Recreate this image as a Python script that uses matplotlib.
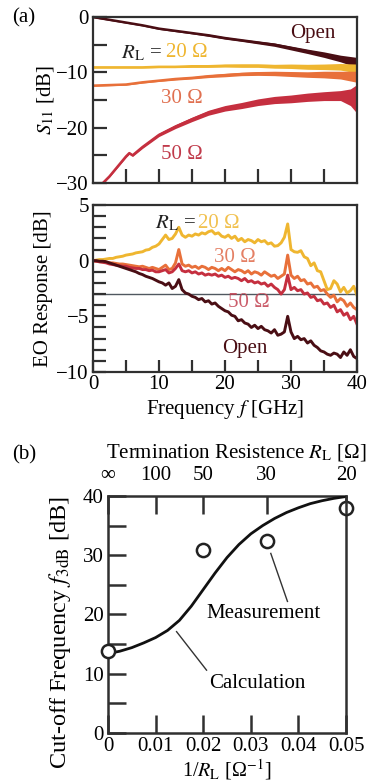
import numpy as np
import matplotlib
matplotlib.use("Agg")
import matplotlib.pyplot as plt

plt.rcParams['font.family'] = ['Liberation Serif', 'DejaVu Serif']
plt.rcParams['mathtext.fontset'] = 'stix'

# ---------------- data ----------------
# (a) top: S11 [dB] vs frequency (GHz), center trace and noise half-width
s11_f = [0, 2.5, 5, 7.5, 10, 12.5, 15, 17.5, 20, 22.5, 25, 27.5, 30, 32.5, 35, 37.5, 40]
s11_open = [0, -0.5, -1.0, -1.5, -2.1, -2.5, -2.9, -3.3, -3.8, -4.2, -4.6, -5.0, -5.6, -6.2, -6.8, -7.5, -8.2]
s11_open_hw = [0.12, 0.12, 0.12, 0.12, 0.15, 0.15, 0.15, 0.2, 0.2, 0.2, 0.25, 0.3, 0.35, 0.4, 0.5, 0.6, 0.9]
s11_20 = [-9.1, -9.1, -9.1, -9.1, -9.0, -9.0, -8.9, -8.9, -8.8, -8.8, -8.8, -8.9, -8.9, -9.0, -9.0, -9.0, -9.3]
s11_20_hw = [0.12, 0.12, 0.12, 0.12, 0.15, 0.15, 0.2, 0.2, 0.25, 0.3, 0.3, 0.35, 0.4, 0.45, 0.5, 0.6, 0.8]
s11_30 = [-12.4, -12.3, -12.2, -11.8, -11.5, -11.2, -11.0, -10.7, -10.5, -10.3, -10.2, -10.2, -10.3, -10.4, -10.4, -10.5, -10.8]
s11_30_hw = [0.12, 0.12, 0.12, 0.15, 0.15, 0.2, 0.2, 0.25, 0.3, 0.3, 0.35, 0.4, 0.45, 0.5, 0.6, 0.7, 1.0]
s11_50_f = [1.5, 2.5, 5, 5.5, 6, 7.5, 10, 12.5, 15, 17.5, 20, 22.5, 25, 27.5, 30, 32.5, 35, 37.5, 39, 40]
s11_50 = [-30, -28.8, -25.2, -24.6, -25.0, -23.5, -21.3, -19.8, -18.5, -17.3, -16.5, -16.0, -15.4, -15.0, -14.8, -14.5, -14.3, -14.2, -14.5, -14.8]
s11_50_hw = [0.15, 0.15, 0.2, 0.2, 0.2, 0.25, 0.3, 0.35, 0.4, 0.45, 0.5, 0.55, 0.6, 0.65, 0.7, 0.75, 0.8, 0.9, 1.5, 2.6]

# (a) bottom: EO response [dB] at 0.5 GHz steps
eo_f = [i * 0.5 for i in range(81)]
eo_20 = [0.0, 0.05, 0.1, 0.1, 0.15, 0.2, 0.2, 0.3, 0.35, 0.4, 0.5, 0.55, 0.6, 0.7, 0.75, 0.8,
         0.95, 1.0, 1.2, 1.3, 1.5, 1.9, 2.3, 1.9, 2.0, 2.4, 3.0, 2.3, 2.1, 2.3, 2.2, 2.4,
         2.3, 2.5, 2.4, 2.6, 2.7, 2.4, 2.5, 2.2, 2.1, 2.3, 2.0, 2.2, 1.8, 2.0, 1.7, 1.9,
         1.8, 1.6, 1.9, 1.7, 1.8, 1.5, 1.6, 1.3, 1.35, 1.6, 2.1, 3.3, 1.0, 0.8, 0.75, 0.9,
         0.35, 0.2, -0.45, -0.2, -0.9, -1.0, -1.8, -2.6, -2.5, -1.8, -2.1, -2.8, -2.4, -2.9,
         -2.7, -2.3, -3.1]
eo_30 = [0.0, -0.05, -0.1, -0.1, -0.15, -0.2, -0.2, -0.25, -0.3, -0.3, -0.35, -0.4, -0.45, -0.5,
         -0.55, -0.5, -0.6, -0.7, -0.6, -0.7, -0.8, -0.6, -0.4, -0.8, -0.7, -0.2, 1.0, -0.3,
         -0.5, -0.4, -0.6, -0.5, -0.7, -0.5, -0.6, -0.8, -0.6, -0.7, -0.9, -0.7, -0.9, -0.6,
         -0.8, -1.0, -0.8, -0.9, -1.1, -0.9, -1.2, -1.0, -1.1, -1.3, -1.0, -1.2, -1.4, -1.3,
         -1.6, -1.4, -1.2, 0.5, -1.3, -1.6, -1.4, -1.8, -1.7, -2.1, -2.0, -2.4, -2.3, -2.7,
         -2.6, -3.0, -3.3, -3.1, -3.7, -3.4, -3.6, -4.1, -3.8, -4.2, -4.4]
eo_50 = [0.0, -0.05, -0.1, -0.15, -0.2, -0.3, -0.35, -0.4, -0.45, -0.5, -0.5, -0.6, -0.65, -0.7,
         -0.7, -0.8, -0.8, -0.9, -0.85, -1.0, -1.0, -0.9, -0.8, -1.1, -1.0, -0.7, -0.3, -0.9,
         -1.0, -0.9, -1.1, -1.0, -1.2, -1.1, -1.3, -1.2, -1.3, -1.2, -1.4, -1.3, -1.5, -1.4,
         -1.6, -1.5, -1.6, -1.8, -1.6, -1.9, -1.8, -2.0, -1.9, -2.1, -2.0, -2.3, -2.1, -2.4,
         -2.6, -3.0, -2.6, -1.3, -2.6, -2.4, -2.7, -2.6, -3.0, -2.9, -3.3, -3.2, -3.6, -3.5,
         -3.9, -3.8, -4.2, -4.0, -4.6, -4.4, -4.9, -4.7, -5.3, -5.0, -5.7]
eo_open = [0.0, 0.0, -0.05, -0.05, -0.1, -0.2, -0.3, -0.4, -0.5, -0.6, -0.7, -0.8, -0.9, -1.0,
           -1.15, -1.25, -1.4, -1.5, -1.6, -1.75, -1.9, -2.0, -2.2, -2.0, -2.5, -2.3, -1.7, -2.6,
           -2.9, -3.0, -3.2, -3.3, -3.5, -3.4, -3.7, -3.6, -3.9, -3.8, -4.1, -4.3, -4.5, -4.6,
           -4.9, -5.0, -5.4, -5.3, -5.6, -5.7, -6.0, -5.8, -6.1, -5.9, -6.2, -6.3, -6.5, -6.2,
           -6.7, -6.6, -6.4, -5.0, -6.4, -7.0, -6.8, -7.1, -7.0, -7.4, -7.2, -7.6, -7.8, -8.1,
           -8.2, -8.4, -8.5, -8.3, -8.4, -8.7, -8.2, -8.5, -8.0, -8.6, -8.8]

# (b) cut-off frequency vs 1/RL
meas_x = [0.0, 0.02, 1 / 30, 0.05]
meas_y = [13.8, 30.8, 32.4, 38.0]
calc_x = [0.0, 0.0025, 0.005, 0.0075, 0.01, 0.0125, 0.015, 0.0175, 0.02, 0.0225, 0.025,
          0.0275, 0.03, 0.0325, 0.035, 0.0375, 0.04, 0.0425, 0.045, 0.0475, 0.05]
calc_y = [13.4, 13.8, 14.4, 15.2, 16.1, 17.3, 19.0, 21.4, 24.2, 27.0, 29.6,
          31.8, 33.6, 35.0, 36.2, 37.2, 38.0, 38.7, 39.2, 39.6, 39.9]
top_tick_pos = [0.0, 0.01, 0.02, 1 / 30, 0.05]
top_tick_lab = ['∞', '100', '50', '30', '20']

C20 = '#efb630'
C30 = '#e8703a'
C50 = '#c52f3f'
COPEN = '#4a0e14'
SP = '#303030'
TS = 15  # tick label size
W, H = 367.0, 781.0

fig = plt.figure(figsize=(3.67, 7.81), dpi=100)

def ftext(xp, yp, s, **kw):
    return fig.text(xp / W, 1 - yp / H, s, ha='center', va='center', **kw)

def style(ax, lw=1.6):
    for s in ax.spines.values():
        s.set_linewidth(lw)
        s.set_color(SP)
    ax.tick_params(direction='in', width=1.6, color=SP, labelsize=TS, pad=3)

# ---- panel (a) top
ax1 = fig.add_axes([0.2534, 0.7657, 0.7193, 0.2125])
style(ax1)
for fx, c, hw, col in [(s11_f, s11_open, s11_open_hw, COPEN), (s11_f, s11_20, s11_20_hw, C20),
                       (s11_f, s11_30, s11_30_hw, C30), (s11_50_f, s11_50, s11_50_hw, C50)]:
    c = np.array(c); hw = np.array(hw)
    ax1.fill_between(fx, c - hw, c + hw, color=col, lw=0)
    ax1.plot(fx, c, color=col, lw=1.8)
ax1.set_xlim(0, 40)
ax1.set_ylim(-30, 0)
ax1.set_yticks([0, -10, -20, -30])
ax1.set_yticklabels(['0', '−10', '−20', '−30'])
ax1.set_yticks([-5, -15, -25], minor=True)
ax1.set_xticks([5, 10, 15, 20, 25, 30, 35])
ax1.tick_params(axis='x', labelbottom=False, length=10)
ax1.tick_params(axis='y', which='both', length=10, direction='in', width=1.6, color=SP)
ftext(45, 100, '$S_{11}$ [dB]', fontsize=15, rotation=90)
ax1.text(33.3, -2.9, 'Open', color=COPEN, fontsize=15, ha='center', va='center')
ax1.text(4.3, -6.5, '$R_\\mathrm{L}$ = ', color='#222222', fontsize=15, ha='left', va='center')
ax1.text(11.0, -6.5, '20 Ω', color=C20, fontsize=15, ha='left', va='center')
ax1.text(13.4, -14.7, '30 Ω', color='#e07050', fontsize=15, ha='center', va='center')
ax1.text(13.4, -24.8, '50 Ω', color='#c03a4a', fontsize=15, ha='center', va='center')

# ---- panel (a) bottom
ax2 = fig.add_axes([0.2534, 0.5237, 0.7193, 0.2138])
style(ax2)
ax2.axhline(-3, color='#505860', lw=1.0, zorder=1)
ax2.plot(eo_f, eo_20, color=C20, lw=2.1)
ax2.plot(eo_f, eo_30, color=C30, lw=2.1)
ax2.plot(eo_f, eo_50, color=C50, lw=2.1)
ax2.plot(eo_f, eo_open, color=COPEN, lw=2.1)
ax2.set_xlim(0, 40)
ax2.set_ylim(-10, 5)
ax2.set_xticks([0, 10, 20, 30, 40])
ax2.set_xticks([5, 15, 25, 35], minor=True)
ax2.set_yticks([5, 0, -5, -10])
ax2.set_yticklabels(['5', '0', '−5', '−10'])
ax2.set_yticks([v for v in range(-9, 5) if v % 5 != 0], minor=True)
ax2.tick_params(axis='both', which='both', length=9, direction='in', width=1.6, color=SP)
ax2.tick_params(axis='x', pad=2)
ftext(44, 288.5, 'EO Response [dB]', fontsize=15, rotation=90)
ftext(225, 410, 'Frequency $f$ [GHz]', fontsize=15)
ax2.text(9.4, 3.3, '$R_\\mathrm{L}$ = ', color='#222222', fontsize=15, ha='left', va='center')
ax2.text(15.9, 3.3, '20 Ω', color=C20, fontsize=15, ha='left', va='center', alpha=0.85)
ax2.text(21.5, 0.3, '30 Ω', color='#e06a4a', fontsize=15, ha='center', va='center', alpha=0.85)
ax2.text(23.6, -3.8, '50 Ω', color='#c24050', fontsize=15, ha='center', va='center', alpha=0.85)
ax2.text(23.0, -7.9, 'Open', color=COPEN, fontsize=15, ha='center', va='center')

# ---- panel (b)
ax3 = fig.add_axes([0.2943, 0.0615, 0.6485, 0.3035])
style(ax3, lw=1.8)
ax3.plot(calc_x, calc_y, color='#111111', lw=2.0, zorder=3)
ax3.plot(meas_x, meas_y, ls='none', marker='o', ms=9.5, mfc='white', mec='#222222', mew=1.8,
         clip_on=False, zorder=5)
ax3.set_xlim(0, 0.05)
ax3.set_ylim(0, 40)
ax3.set_xticks([0, 0.01, 0.02, 0.03, 0.04, 0.05])
ax3.set_xticklabels(['0', '0.01', '0.02', '0.03', '0.04', '0.05'])
ax3.set_yticks([0, 10, 20, 30, 40])
ax3.set_yticks([5, 15, 25, 35], minor=True)
ax3.tick_params(axis='both', which='both', length=13, direction='in', width=1.8, color=SP, labelsize=TS)
ax3.tick_params(axis='x', pad=3)
ftext(227, 770, '1/$R_\\mathrm{L}$ [Ω$^{-1}$]', fontsize=14.5)
ftext(60, 633, 'Cut-off Frequency $f_\\mathrm{3dB}$ [dB]', fontsize=17.5, rotation=90)
axt = ax3.twiny()
axt.set_xlim(0, 0.05)
axt.set_xticks(top_tick_pos)
axt.set_xticklabels(top_tick_lab)
axt.tick_params(axis='x', length=13, direction='in', width=1.8, color=SP, labelsize=TS, pad=8)
ftext(236, 453, 'Termination Resistence $R_\\mathrm{L}$ [Ω]', fontsize=15)
for s in axt.spines.values():
    s.set_visible(False)
ax3.text(0.0206, 20.2, 'Measurement', fontsize=15, ha='left', va='center')
ax3.plot([0.0342, 0.0377], [30.3, 22.2], color='#333333', lw=1.0)
ax3.text(0.0213, 8.3, 'Calculation', fontsize=15, ha='left', va='center')
ax3.plot([0.0144, 0.0207], [17.1, 10.6], color='#333333', lw=1.0)

fig.text(12 / W, 1 - 18 / H, '(a)', fontsize=15, ha='left', va='center')
fig.text(12 / W, 1 - 455 / H, '(b)', fontsize=15, ha='left', va='center')

fig.savefig('out.png', dpi=100)
